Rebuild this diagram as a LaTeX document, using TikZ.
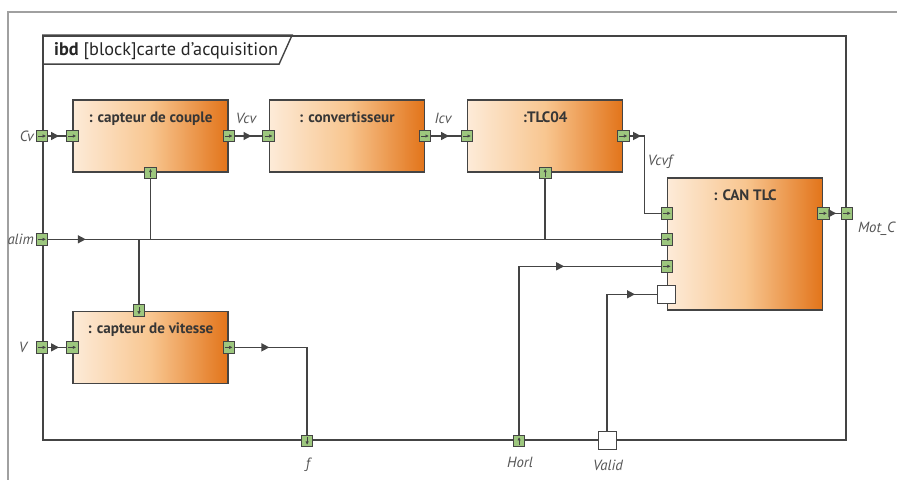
\documentclass[tikz,border=0pt]{standalone}
\usepackage{fontspec}
\setmainfont{PT Sans}
\usepackage{tikz}
\definecolor{BlockLight}{HTML}{FDEBD8}
\definecolor{BlockMid}{HTML}{F8C690}
\definecolor{BlockDark}{HTML}{E2741A}
\definecolor{PortGreen}{HTML}{9DC77E}
\definecolor{LineGray}{HTML}{444444}
\definecolor{TextGray}{HTML}{555555}
\definecolor{EdgeGray}{HTML}{A0A0A0}
\usetikzlibrary{arrows.meta, positioning, calc, decorations.markings}

\tikzset{
  block/.style={draw=LineGray, line width=0.8pt, left color=BlockLight, right color=BlockDark, middle color=BlockMid, minimum width=3.1cm, minimum height=1.44cm},
  blocktitle/.style={anchor=north, yshift=-3.5pt, font=\bfseries\fontsize{8.6}{10}\selectfont, text=LineGray!80!black},
  port/.style={draw=LineGray, line width=0.5pt, fill=PortGreen, minimum size=0.23cm, inner sep=0pt},
  portR/.style={port, path picture={\draw[-{Latex[length=2pt,width=2pt]}, line width=0.4pt, LineGray] ([xshift=1pt]path picture bounding box.west) -- ([xshift=-1pt]path picture bounding box.east);}},
  portU/.style={port, path picture={\draw[-{Latex[length=2pt,width=2pt]}, line width=0.4pt, LineGray] ([yshift=1pt]path picture bounding box.south) -- ([yshift=-1pt]path picture bounding box.north);}},
  portD/.style={port, path picture={\draw[-{Latex[length=2pt,width=2pt]}, line width=0.4pt, LineGray] ([yshift=-1pt]path picture bounding box.north) -- ([yshift=1pt]path picture bounding box.south);}},
  portW/.style={draw=LineGray, line width=0.6pt, fill=white, minimum size=0.36cm, inner sep=0pt},
  flow/.style={draw=LineGray, line width=0.85pt},
  arrowat/.style={postaction={decorate}, decoration={markings, mark=at position #1 with {\arrow{Triangle[length=4.5pt,width=4.5pt]}}}},
  sig/.style={font=\itshape\fontsize{8.4}{9.5}\selectfont, text=TextGray, inner sep=1pt},
}

\begin{document}
\begin{tikzpicture}[x=0.02cm, y=-0.02cm]
    \useasboundingbox (0,0) rectangle (897,480);
    % Page edge
    \draw[EdgeGray, line width=0.6pt] (8,480) -- (8,12) -- (897,12);

    % Frame
    \node[draw=LineGray, line width=1.1pt, minimum width=16.06cm, minimum height=8.08cm, inner sep=0pt] (frame) at (444.5,238) {};
    \draw[LineGray, line width=0.8pt] (frame.north west) -- ++(250,0) -- ++(-13,29) -- ++(-237,0);
    \node[anchor=west, font=\fontsize{10.4}{12}\selectfont, text=black!85] (head) at (48,51) {\textbf{ibd} [block]carte d’acquisition};

    % Blocks
    \node[block] (couple) at (150.5,136) {};
    \node[block, right=0.8cm of couple] (conv) {};
    \node[block, right=0.84cm of conv] (tlc) {};
    \node[block, minimum height=2.64cm] (can) at (745,244) {};
    \node[block, below=2.76cm of couple] (vitesse) {};

    \node[blocktitle] (tcouple) at (couple.north) {: capteur de couple};
    \node[blocktitle] (tconv) at (conv.north) {: convertisseur};
    \node[blocktitle] (ttlc) at (tlc.north) {:TLC04};
    \node[blocktitle] (tcan) at (can.north) {: CAN TLC};
    \node[blocktitle] (tvitesse) at (vitesse.north) {: capteur de vitesse};

    % Ports of the blocks
    \node[portR] (cpin) at (couple.west) {};
    \node[portR] (cpout) at (couple.east) {};
    \node[portU] (cpbot) at (couple.south) {};
    \node[portR] (cvin) at (conv.west) {};
    \node[portR] (cvout) at (conv.east) {};
    \node[portR] (tlcin) at (tlc.west) {};
    \node[portR] (tlcout) at (tlc.east) {};
    \node[portU] (tlcbot) at (tlc.south) {};
    \node[portR] (can1) at ($(can.north west)+(0,36)$) {};
    \node[portR] (can2) at ($(can.north west)+(0,62)$) {};
    \node[portR] (can3) at ($(can.north west)+(0,89)$) {};
    \node[portW] (can4) at ($(can.north west)+(0,117)$) {};
    \node[portR] (canout) at (can1 -| can.east) {};
    \node[portD] (vitop) at ($(vitesse.north)+(-11.5,0)$) {};
    \node[portR] (vitin) at (vitesse.west) {};
    \node[portR] (vitout) at (vitesse.east) {};

    % Ports of the frame
    \node[portR] (cv) at (cpin -| frame.west) {};
    \node[portR] (alim) at (can2 -| frame.west) {};
    \node[portR] (v) at (vitin -| frame.west) {};
    \node[portR] (motc) at (canout -| frame.east) {};
    \node[portD] (f) at ($(frame.south west)+(265,0)$) {};
    \node[portU] (horl) at ($(frame.south west)+(477,0)$) {};
    \node[portW] (valid) at ($(frame.south west)+(565,0)$) {};

    % Signal names
    \node[sig, anchor=east] (lcv) at (cv.west) {Cv};
    \node[sig] (lvcv) at (246,118) {Vcv};
    \node[sig] (licv) at (443,118) {Icv};
    \node[sig] (lvcvf) at (660,162) {Vcvf};
    \node[sig, anchor=east] (lalim) at (alim.west) {alim};
    \node[sig, anchor=east, xshift=-4pt] (lv) at (v.west) {V};
    \node[sig, anchor=west] (lmotc) at (856,229) {Mot\_C};
    \node[sig] (lf) at (308,465) {f};
    \node[sig] (lhorl) at (520,462) {Horl};
    \node[sig] (lvalid) at (608,465) {Valid};

    % Flows
    \draw[flow, arrowat=0.6] (cv) -- (cpin);
    \draw[flow, arrowat=0.6] (cpout) -- (cvin);
    \draw[flow, arrowat=0.6] (cvout) -- (tlcin);
    \draw[flow, arrowat=0.23cm] (tlcout) -- ++(21,0) |- (can1);
    \draw[flow, arrowat=0.75cm] (alim) -- (can2);
    \draw[flow] (cpbot) -- (cpbot |- alim);
    \draw[flow] (tlcbot) -- (tlcbot |- alim);
    \draw[flow] (vitop |- alim) -- (vitop);
    \draw[flow, arrowat=0.6] (v) -- (vitin);
    \draw[flow, arrowat=0.69cm] (vitout) -| (f);
    \draw[flow, arrowat=4.27cm] (horl) |- (can3);
    \draw[flow, arrowat=3.3cm] (valid) |- (can4);
    \draw[flow, arrowat=0.6] (canout) -- (motc);
\end{tikzpicture}
\end{document}
